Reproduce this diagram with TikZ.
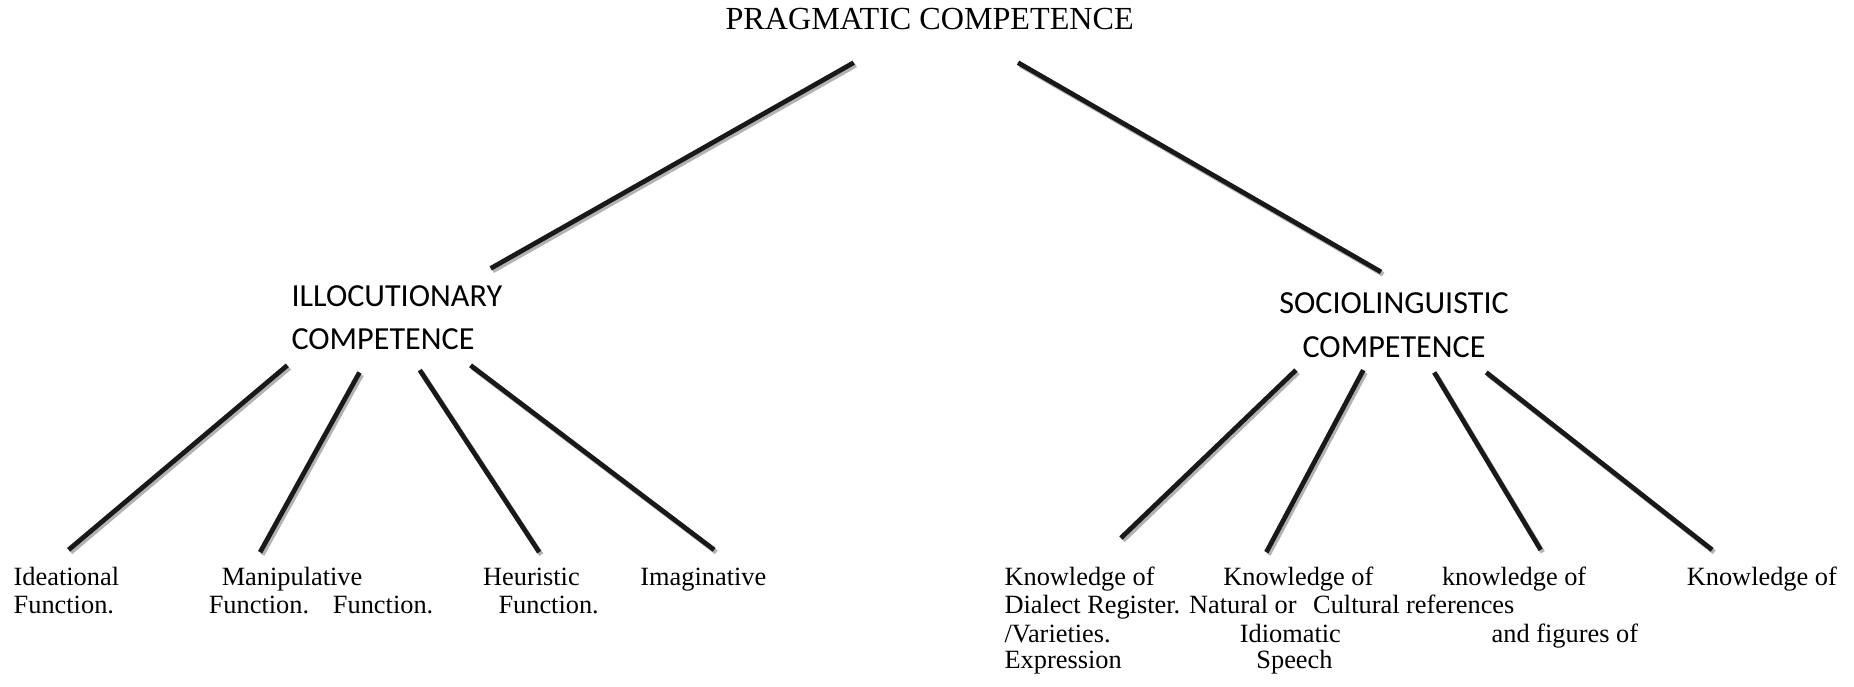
\documentclass[tikz,border=0pt]{standalone}
\usepackage{fontspec}
\setmainfont{Liberation Serif}
\newfontfamily\calibrifont{Carlito}

\begin{document}
\begin{tikzpicture}[x=0.011824cm,y=-0.011824cm,
    every node/.style={inner sep=0pt,anchor=base west,font=\fontsize{7.5}{9}\selectfont},
    link/.style={line width=1.35pt,black!90,
      preaction={draw=gray!60,line width=1.35pt,
        transform canvas={shift={(0.6pt,-0.7pt)}}}},
    head/.style={font=\fontsize{9.15}{11}\selectfont},
    branch/.style={font=\calibrifont\fontsize{9.15}{12.4}\selectfont,align=left}]
    \useasboundingbox (0,0) rectangle (1568,581);

    % Root
    \node[head] (prag) at (613,25) {PRAGMATIC COMPETENCE};

    % Second level (base = last line)
    \node[branch] (illoc) at (246,296) {ILLOCUTIONARY\\COMPETENCE};
    \node[branch,align=center,anchor=base] (socio) at (1179,302)
      {SOCIOLINGUISTIC\\COMPETENCE};

    % Line ends
    \coordinate (prag-l) at (722,53);
    \coordinate (prag-r) at (861,53);
    \coordinate (illoc-in) at (415,227);
    \coordinate (socio-in) at (1168,230);

    \draw[link] (prag-l) -- (illoc-in);
    \draw[link] (prag-r) -- (socio-in);

    % Illocutionary functions
    \node (ideat)  at (11,495)    {Ideational};
    \node (ideatf) at (11,518.5)  {Function.};
    \node (manip)  at (187,495)   {Manipulative};
    \node (manipf) at (176,518.5) {Function.};
    \node (extraf) at (281,518.5) {Function.};
    \node (heur)   at (408,495)   {Heuristic};
    \node (heurf)  at (421,518.5) {Function.};
    \node (imag)   at (541,495)   {Imaginative};

    \coordinate (illoc-1) at (243,309);
    \coordinate (illoc-2) at (304,315);
    \coordinate (illoc-3) at (355,313);
    \coordinate (illoc-4) at (398,309);
    \coordinate (ideat-in) at (58,465);
    \coordinate (manip-in) at (220,467);
    \coordinate (heur-in)  at (456,467);
    \coordinate (imag-in)  at (604,465);

    \draw[link] (illoc-1) -- (ideat-in);
    \draw[link] (illoc-2) -- (manip-in);
    \draw[link] (illoc-3) -- (heur-in);
    \draw[link] (illoc-4) -- (imag-in);

    % Sociolinguistic knowledge
    \node (dial)  at (849,495)   {Knowledge of};
    \node (diala) at (849,518.5) {Dialect Register.};
    \node (dialb) at (849,543)   {/Varieties.};
    \node (dialc) at (849,565)   {Expression};
    \node (nat)   at (1034,495)  {Knowledge of};
    \node (nata)  at (1005,518.5) {Natural or};
    \node (natb)  at (1048,543)  {Idiomatic};
    \node (natc)  at (1062,565)  {Speech};
    \node (cult)  at (1219,495)  {knowledge of};
    \node (culta) at (1110,518.5) {Cultural references};
    \node (cultb) at (1261,543)  {and figures of};
    \node (fig)   at (1426,495)  {Knowledge of};

    \coordinate (socio-1) at (1096,313);
    \coordinate (socio-2) at (1153,313);
    \coordinate (socio-3) at (1213,315);
    \coordinate (socio-4) at (1257,315);
    \coordinate (dial-in) at (948,455);
    \coordinate (nat-in)  at (1071,467);
    \coordinate (cult-in) at (1303,465);
    \coordinate (fig-in)  at (1448,465);

    \draw[link] (socio-1) -- (dial-in);
    \draw[link] (socio-2) -- (nat-in);
    \draw[link] (socio-3) -- (cult-in);
    \draw[link] (socio-4) -- (fig-in);

  \end{tikzpicture}
\end{document}
